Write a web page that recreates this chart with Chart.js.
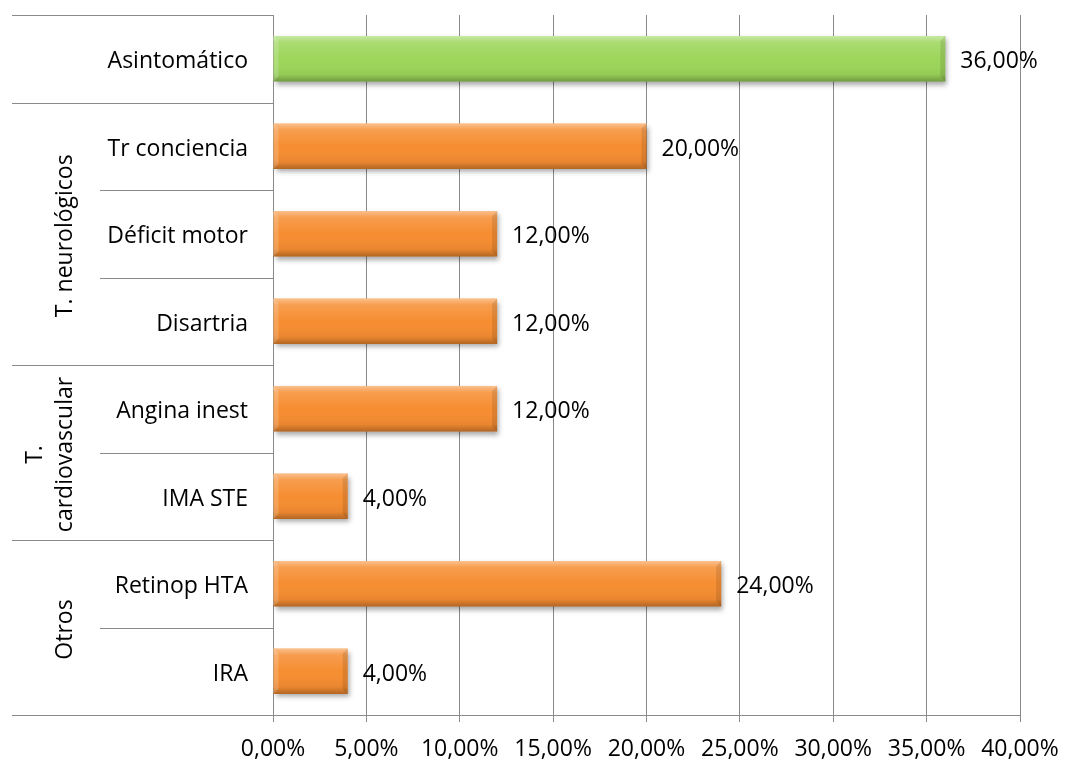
<!DOCTYPE html>
<html>
<head>
<meta charset="utf-8">
<script src="https://cdn.jsdelivr.net/npm/chart.js@4.4.1/dist/chart.umd.min.js"></script>
<style>
  html, body { margin: 0; padding: 0; background: #fff; }
</style>
</head>
<body>
<canvas id="grafico" width="1066" height="764"></canvas>
<script>
const categorias = ['Asintomático', 'Tr conciencia', 'Déficit motor', 'Disartria', 'Angina inest', 'IMA STE', 'Retinop HTA', 'IRA'];
const porcentajes = [36, 20, 12, 12, 12, 4, 24, 4];
const grupos = ['', 'T. neurológicos', ['T.', 'cardiovascular'], 'Otros'];
const tamanoGrupos = [1, 3, 2, 2];
const ticksX = [0, 5, 10, 15, 20, 25, 30, 35, 40];

const VERDE = '#9cd65a';
const NARANJA = '#f68d31';
const GRIS = '#8a8a8a';
const FUENTE = '"Open Sans"';
const TAM = 23;

const colores = categorias.map((c, i) => i === 0 ? VERDE : NARANJA);
const fmt = v => v.toFixed(2).replace('.', ',') + '%';

// sombra de las barras
const sombra = {
    id: 'sombra',
    beforeDatasetsDraw(chart) {
        const ctx = chart.ctx;
        ctx.save();
        ctx.shadowColor = 'rgba(0,0,0,0.35)';
        ctx.shadowBlur = 5;
        ctx.shadowOffsetX = 2;
        ctx.shadowOffsetY = 3;
    },
    afterDatasetsDraw(chart) {
        const ctx = chart.ctx;
        ctx.restore();
        // efecto biselado encima de cada barra
        chart.getDatasetMeta(0).data.forEach(bar => {
            const left = bar.base, right = bar.x;
            const top = bar.y - bar.height / 2, bottom = bar.y + bar.height / 2;
            const g = ctx.createLinearGradient(0, top, 0, bottom);
            g.addColorStop(0, 'rgba(255,255,255,0.45)');
            g.addColorStop(0.14, 'rgba(255,255,255,0.15)');
            g.addColorStop(0.5, 'rgba(255,255,255,0)');
            g.addColorStop(0.85, 'rgba(0,0,0,0.06)');
            g.addColorStop(1, 'rgba(0,0,0,0.28)');
            ctx.fillStyle = g;
            ctx.fillRect(left, top, right - left, bottom - top);
            const b = 5;
            ctx.fillStyle = 'rgba(0,0,0,0.10)';
            ctx.beginPath();
            ctx.moveTo(right - b, top + b);
            ctx.lineTo(right, top);
            ctx.lineTo(right, bottom);
            ctx.lineTo(right - b, bottom - b);
            ctx.closePath();
            ctx.fill();
            ctx.fillStyle = 'rgba(255,255,255,0.18)';
            ctx.beginPath();
            ctx.moveTo(left, top);
            ctx.lineTo(left + b, top + b);
            ctx.lineTo(left + b, bottom - b);
            ctx.lineTo(left, bottom);
            ctx.closePath();
            ctx.fill();
        });
    }
};

// etiquetas de valores
const etiquetas = {
    id: 'etiquetas',
    afterDatasetsDraw(chart) {
        const ctx = chart.ctx;
        ctx.save();
        ctx.font = TAM + 'px ' + FUENTE;
        ctx.fillStyle = '#000';
        ctx.textAlign = 'left';
        ctx.textBaseline = 'middle';
        chart.getDatasetMeta(0).data.forEach((bar, i) => {
            ctx.fillText(fmt(porcentajes[i]), bar.x + 15, bar.y + 3);
        });
        ctx.restore();
    }
};

// separadores y nombres de grupo en el eje de categorías
const gruposEje = {
    id: 'gruposEje',
    afterDraw(chart) {
        const ctx = chart.ctx;
        const y = chart.scales.y;
        const area = chart.chartArea;
        const izq = 12, medio = 100;
        const limite = i => i < 0 ? area.top : (i >= categorias.length - 1 ? area.bottom : (y.getPixelForValue(i) + y.getPixelForValue(i + 1)) / 2);

        ctx.save();
        ctx.strokeStyle = GRIS;
        ctx.lineWidth = 1;
        const linea = (x1, yy, x2) => {
            const py = Math.round(yy) + 0.5;
            ctx.beginPath();
            ctx.moveTo(x1, py);
            ctx.lineTo(x2, py);
            ctx.stroke();
        };

        let inicio = 0;
        const fronteras = new Set([-1]);
        tamanoGrupos.forEach(n => { inicio += n; fronteras.add(inicio - 1); });
        for (let i = -1; i < categorias.length; i++) {
            linea(fronteras.has(i) ? izq : medio, limite(i), area.left);
        }

        ctx.font = TAM + 'px ' + FUENTE;
        ctx.fillStyle = '#000';
        ctx.textAlign = 'center';
        ctx.textBaseline = 'middle';
        inicio = 0;
        tamanoGrupos.forEach((n, g) => {
            const nombre = grupos[g];
            const y1 = limite(inicio - 1), y2 = limite(inicio + n - 1);
            inicio += n;
            if (!nombre) return;
            const lineas = Array.isArray(nombre) ? nombre : [nombre];
            const alto = 30;
            ctx.save();
            ctx.translate(65 - (lineas.length - 1) * alto, (y1 + y2) / 2 + 2);
            ctx.rotate(-Math.PI / 2);
            lineas.forEach((t, k) => {
                ctx.fillText(t, 0, k * alto);
            });
            ctx.restore();
        });

        linea(izq, area.bottom, area.left);
        ctx.restore();
    }
};

new Chart(document.getElementById('grafico'), {
    type: 'bar',
    data: {
        labels: categorias,
        datasets: [{
            data: porcentajes,
            backgroundColor: colores,
            borderWidth: 0,
            categoryPercentage: 1,
            barPercentage: 0.52
        }]
    },
    options: {
        indexAxis: 'y',
        responsive: false,
        animation: false,
        devicePixelRatio: 1,
        layout: { padding: { left: 12, top: 15, right: 46, bottom: 0 } },
        plugins: {
            legend: { display: false },
            tooltip: { enabled: false }
        },
        scales: {
            x: {
                min: 0,
                max: 40,
                afterBuildTicks: scale => { scale.ticks = ticksX.map(v => ({ value: v })); },
                afterFit: scale => {
                    scale.height = 49;
                    scale.paddingLeft = 0;
                    scale.paddingRight = 0;
                },
                ticks: {
                    callback: v => fmt(v),
                    font: { family: FUENTE, size: TAM },
                    color: '#000',
                    padding: 14,
                    maxRotation: 0
                },
                grid: { color: GRIS, lineWidth: 1, tickLength: 7 },
                border: { color: GRIS, width: 1 }
            },
            y: {
                afterFit: scale => {
                    scale.width = 261;
                    scale.paddingTop = 0;
                    scale.paddingBottom = 0;
                },
                ticks: {
                    font: { family: FUENTE, size: TAM },
                    color: '#000',
                    padding: 25,
                    labelOffset: 3
                },
                grid: { display: false, drawTicks: false },
                border: { display: true, color: GRIS, width: 1 }
            }
        }
    },
    plugins: [sombra, etiquetas, gruposEje]
});
</script>
</body>
</html>
